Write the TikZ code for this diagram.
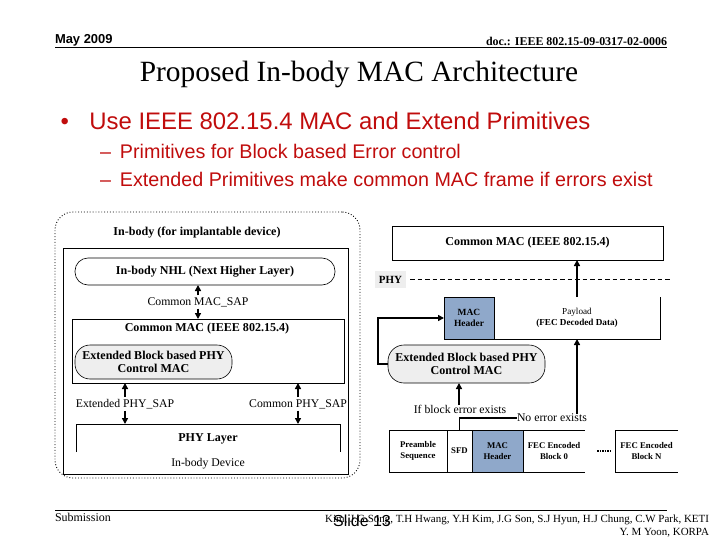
\documentclass[tikz,border=0pt]{standalone}
\usepackage{fontspec}
\setmainfont{Liberation Serif}
\newfontfamily\arial{Liberation Sans}
\usetikzlibrary{arrows.meta}
\definecolor{redtxt}{RGB}{192,12,12}
\definecolor{macblue}{RGB}{143,168,202}
\definecolor{lgray}{RGB}{238,238,238}
\begin{document}
\begin{tikzpicture}[x=1bp,y=-1bp,
  every node/.style={inner sep=0pt, outer sep=0pt, align=center},
  bt/.style={font=\fontsize{12.1}{13.5}\selectfont\bfseries},
  rt/.style={font=\fontsize{11.8}{13.5}\selectfont},
  st/.style={font=\fontsize{8.8}{11}\selectfont\bfseries},
  box/.style={draw, line width=0.8pt},
  pill/.style={draw, line width=0.6pt, rounded corners=13bp},
  arr/.style={-{Triangle[length=6bp,width=6bp]}, line width=1.6pt},
  thk/.style={line width=1.6pt},
  redt/.style={text=redtxt, font=\arial\fontsize{24}{28}\selectfont, anchor=base west},
  redsub/.style={text=redtxt, font=\arial\fontsize{19.8}{24}\selectfont, anchor=base west}]
\useasboundingbox (0,0) rectangle (720,540);
% header
\node[anchor=west, font=\arial\bfseries\fontsize{13}{15}\selectfont] (date) at (55,40) {May 2009};
\node[anchor=east, font=\bfseries\fontsize{12}{14}\selectfont] (doc) at (667,41) {doc.: IEEE 802.15-09-0317-02-0006};
\coordinate (hl1) at (55,47); \coordinate (hr1) at (667,47);
\draw[line width=0.8pt] (hl1) -- (hr1);
\node[font=\fontsize{29.5}{33}\selectfont] (title) at (359,74) {Proposed In-body MAC Architecture};
% bullets
\node[redt] (b1) at (60.5,129.5) {•\hspace{20.5bp}Use IEEE 802.15.4 MAC and Extend Primitives};
\node[redsub] (s1) at (100,159) {\textendash\hspace{9bp}Primitives for Block based Error control};
\node[redsub] (s2) at (100,187) {\textendash\hspace{9bp}Extended Primitives make common MAC frame if errors exist};
% ---------- left diagram ----------
\node[draw, dotted, line width=0.9pt, rounded corners=18bp, minimum width=305bp, minimum height=266bp] (outer) at (207.5,345) {};
\node[bt] (ot) at (197,233) {In-body (for implantable device)};
\node[box, minimum width=285bp, minimum height=226bp] (device) at (205.5,361) {};
\node[pill, bt, minimum width=260bp, minimum height=27bp] (nhl) at (205,271.5) {In-body NHL (Next Higher Layer)};
\node[rt, inner sep=2bp] (sap1) at (198,302) {Common MAC\_SAP};
\node[box, minimum width=272bp, minimum height=64bp] (cmac) at (208,351) {};
\node[bt] (cmt) at (207,329) {Common MAC (IEEE 802.15.4)};
\node[pill, fill=lgray, bt, rounded corners=15bp, minimum width=157bp, minimum height=34bp] (ext) at (153.5,362) {Extended Block based PHY\\Control MAC};
\node[rt, inner sep=2bp] (sap2) at (125,404) {Extended PHY\_SAP};
\node[rt, inner sep=2bp] (sap3) at (298,404) {Common PHY\_SAP};
\node[minimum width=264bp, minimum height=28bp] (phy) at (208,438) {};
\draw[line width=0.8pt] (phy.south west) -- (phy.north west) -- (phy.north east) -- (phy.south east);
\node[bt] (phyt) at (208,439) {PHY Layer};
\node[rt] (devt) at (208,464) {In-body Device};
\draw[arr] (sap1.north) -- (sap1.north |- nhl.south);
\draw[arr] (sap1.south) -- (sap1.south |- cmac.north);
\draw[arr] (sap2.north) -- (sap2.north |- cmac.south);
\draw[arr] (sap2.south) -- (sap2.south |- phy.north);
\draw[arr] (sap3.north) -- (sap3.north |- cmac.south);
\draw[arr] (sap3.south) -- (sap3.south |- phy.north);
% ---------- right diagram ----------
\node[box, bt, minimum width=271bp, minimum height=34bp] (rmac) at (527.5,243) {Common MAC (IEEE 802.15.4)};
\node[fill=lgray, bt, font=\fontsize{11}{13}\selectfont\bfseries, minimum width=31bp, minimum height=17bp] (phyl) at (390.5,279.5) {PHY};
\coordinate (dashend) at (670,279.5);
\draw[line width=1.6pt, dash pattern=on 4.5bp off 3bp] ([xshift=4bp]phyl.east) -- (dashend);
\node[box, fill=macblue, font=\fontsize{9.5}{11.5}\selectfont\bfseries, minimum width=50bp, minimum height=42bp] (mh1) at (469,318) {MAC\\Header};
\node[minimum width=166bp, minimum height=42bp, font=\fontsize{9.2}{11.5}\selectfont] (pay) at (577,318) {Payload\\\textbf{(FEC Decoded Data)}};
\draw[line width=0.8pt] (pay.north east) -- (pay.south east) -- (pay.south west);
\draw[arr] (pay.north) -- (pay.north |- rmac.south);
\node[pill, fill=lgray, bt, rounded corners=16bp, minimum width=157bp, minimum height=38bp] (rext) at (466.5,364) {Extended Block based PHY\\Control MAC};
\draw[arr] (rext.west) -- ++(-10,0) |- (mh1.west);
\node[rt] (iflbl) at (460,409) {If block error exists};
\draw[arr] (iflbl.north -| 459,0) -- (rext.south -| 459,0);
% frame
\node[box, st, minimum width=58bp, minimum height=42bp] (pre) at (418,451) {Preamble\\Sequence};
\node[box, st, minimum width=25bp, minimum height=42bp] (sfd) at (459.5,451) {SFD};
\node[box, st, fill=macblue, minimum width=51bp, minimum height=42bp] (mh2) at (497.5,451) {MAC\\Header};
\node[st, minimum width=62bp, minimum height=42bp] (fec0) at (554,451) {FEC Encoded\\Block 0};
\draw[line width=0.8pt] (fec0.north west) -- (fec0.north east);
\draw[line width=0.8pt] (fec0.south west) -- (fec0.south east);
\node[st, minimum width=63bp, minimum height=42bp] (fecn) at (646.5,451) {FEC Encoded\\Block N};
\draw[line width=0.8pt] (fecn.north east) -- (fecn.north west) -- (fecn.south west) -- (fecn.south east);
\draw[line width=1.2pt, dash pattern=on 1.6bp off 0.9bp] ([xshift=12bp]fec0.east) -- ([xshift=-3bp]fecn.west);
\node[rt, anchor=west] (noerr) at (517,418) {No error exists};
\draw[thk] (sfd.north) |- (noerr.west);
\draw[arr] (noerr.north -| pay.south) -- (pay.south);
% footer
\coordinate (fl) at (55,510); \coordinate (fr) at (667,510);
\draw[line width=0.8pt] (fl) -- (fr);
\node[anchor=west, font=\fontsize{12}{14}\selectfont] (sub) at (55,517) {Submission};
\node[anchor=east, font=\fontsize{11}{12.5}\selectfont, align=right] (auth) at (709,526) {Kim, J.G Song, T.H Hwang, Y.H Kim, J.G Son, S.J Hyun, H.J Chung, C.W Park, KETI\\Y. M Yoon, KORPA};
\node[font=\arial\fontsize{16}{18}\selectfont] (slide) at (362,521) {Slide 13};
\end{tikzpicture}
\end{document}
